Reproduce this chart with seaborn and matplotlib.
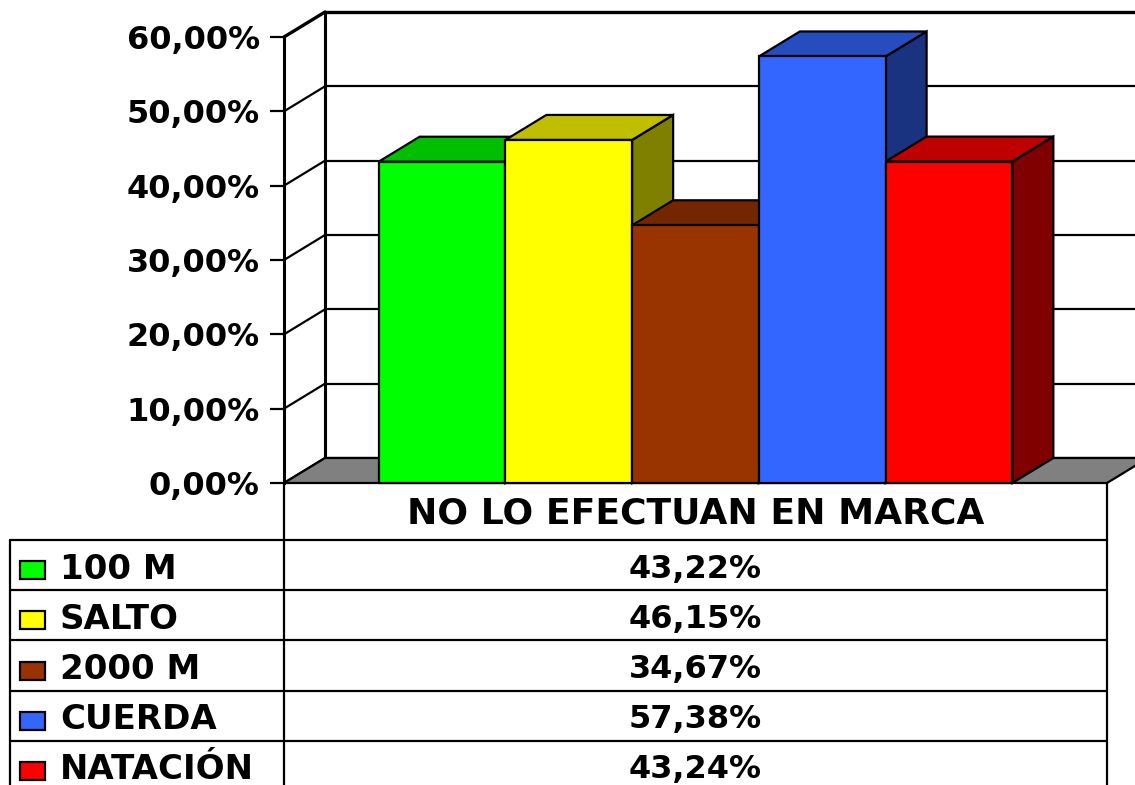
import matplotlib
matplotlib.use("Agg")
import matplotlib.pyplot as plt
from matplotlib.patches import Polygon, Rectangle
from matplotlib.lines import Line2D
from matplotlib.colors import to_rgb
import pandas as pd
import seaborn as sns

# --- data -------------------------------------------------------------
categoria = "NO LO EFECTUAN EN MARCA"
series = ["100 M", "SALTO", "2000 M", "CUERDA", "NATACIÓN"]
valores = [43.22, 46.15, 34.67, 57.38, 43.24]
colores = ["#00FF00", "#FFFF00", "#993300", "#3366FF", "#FF0000"]
yticks = [0, 10, 20, 30, 40, 50, 60]

df = pd.DataFrame({"grupo": [categoria] * len(series),
                   "serie": series,
                   "valor": valores})

# --- figure geometry (pixels) ------------------------------------------
W, H = 1135, 785
FONT = "DejaVu Sans"
FS = 23          # numbers
FS_HEAD = 26     # category header
FS_LEG = 24.5    # series names
LW = 1.6

sns.set_theme(style="white")
plt.rcParams["font.family"] = [FONT]
plt.rcParams["text.color"] = "black"
plt.rcParams["ytick.color"] = "black"
plt.rcParams["ytick.labelcolor"] = "black"

fig = plt.figure(figsize=(W / 100, H / 100), dpi=100)
ax_l, ax_r, ax_t, ax_b = 284, 1107, 37, 483
ax = fig.add_axes([ax_l / W, 1 - ax_b / H, (ax_r - ax_l) / W, (ax_b - ax_t) / H])
ax.set_facecolor("none")

sns.barplot(data=df, x="grupo", y="valor", hue="serie", hue_order=series,
            palette=colores, width=0.77, gap=0, dodge=True, legend=False,
            edgecolor="black", linewidth=LW, saturation=1, ax=ax, errorbar=None)

ax.set_xlim(-0.5, 0.5)
ax.set_ylim(0, 60)

# depth of the 3D box, in data units
DX = 41 / (ax_r - ax_l)
DY = 25 / (ax_b - ax_t) * 60


def shade(c, k):
    r, g, b = to_rgb(c)
    return (r * k, g * k, b * k)


# back wall grid lines and left wall diagonals
for t in yticks:
    lw = 2.4 if t == 60 else LW
    ax.add_line(Line2D([-0.5 + DX, 0.7], [t + DY, t + DY], color="black",
                       lw=lw, clip_on=False, zorder=0.5))
    ax.add_line(Line2D([-0.5, -0.5 + DX], [t, t + DY], color="black",
                       lw=lw, clip_on=False, zorder=0.5))
ax.add_line(Line2D([-0.5 + DX, -0.5 + DX], [DY, 60 + DY], color="black",
                   lw=LW + 0.6, clip_on=False, zorder=0.5))

# floor
ax.add_patch(Polygon([(-0.5, 0), (0.5, 0), (0.5 + DX, DY), (-0.5 + DX, DY)],
                     closed=True, facecolor="#808080", edgecolor="black",
                     lw=LW, clip_on=False, zorder=1))

# extrude each bar: side and top faces behind its front face
bars = sorted(ax.patches[:len(series)], key=lambda p: p.get_x())
for i, (p, c) in enumerate(zip(bars, colores)):
    x, w, h = p.get_x(), p.get_width(), p.get_height()
    z = 3 + 2 * i
    side = Polygon([(x + w, 0), (x + w + DX, DY), (x + w + DX, h + DY), (x + w, h)],
                   closed=True, facecolor=shade(c, 0.5), edgecolor="black",
                   lw=LW, clip_on=False, zorder=z)
    top = Polygon([(x, h), (x + w, h), (x + w + DX, h + DY), (x + DX, h + DY)],
                  closed=True, facecolor=shade(c, 0.75), edgecolor="black",
                  lw=LW, clip_on=False, zorder=z)
    ax.add_patch(side)
    ax.add_patch(top)
    p.set_zorder(z + 1)
    p.set_clip_on(False)

# axes styling
for s in ["top", "right", "bottom"]:
    ax.spines[s].set_visible(False)
ax.spines["left"].set_linewidth(LW + 0.6)
ax.spines["left"].set_color("black")
ax.spines["left"].set_zorder(2)
ax.set_xticks([])
ax.set_xlabel("")
ax.set_ylabel("")
ax.set_yticks(yticks)
ax.set_yticklabels([f"{t:.2f}%".replace(".", ",") for t in yticks],
                   fontsize=FS, fontweight="bold", fontfamily=FONT, color="black")
ax.tick_params(axis="y", length=10, width=LW, color="black", pad=7.5, left=True)

# --- data table below the chart -----------------------------------------
def fx(px):
    return px / W


def fy(py):
    return 1 - py / H


tab_left, tab_mid, tab_right = 10, 284, 1107
head_bottom = 540
row_h = 50.2


def fline(x0, x1, y0, y1, lw=LW):
    fig.add_artist(Line2D([fx(x0), fx(x1)], [fy(y0), fy(y1)], color="black",
                          lw=lw, transform=fig.transFigure))


fline(tab_mid, tab_mid, ax_b, H + 5)
fline(tab_right, tab_right, ax_b, H + 5)
fline(tab_left, tab_left, head_bottom, H + 5)
fig.text(fx((tab_mid + tab_right) / 2), fy((ax_b + head_bottom) / 2 + 2), categoria,
         ha="center", va="center", fontsize=FS_HEAD, fontweight="bold",
         fontfamily=FONT, color="black")

for i, (s, v, c) in enumerate(zip(series, valores, colores)):
    y0 = head_bottom + i * row_h
    fline(tab_left, tab_right, y0, y0)
    yc = y0 + row_h / 2 + 4
    fig.add_artist(Rectangle((fx(20), fy(yc + 10)), 25 / W, 18 / H,
                             facecolor=c, edgecolor="black", lw=LW,
                             transform=fig.transFigure))
    fig.text(fx(60), fy(yc), s, ha="left", va="center", fontsize=FS_LEG,
             fontweight="bold", fontfamily=FONT, color="black")
    fig.text(fx((tab_mid + tab_right) / 2), fy(yc),
             f"{v:.2f}%".replace(".", ","), ha="center", va="center",
             fontsize=FS, fontweight="bold", fontfamily=FONT, color="black")

fig.savefig("out.png", dpi=100)
